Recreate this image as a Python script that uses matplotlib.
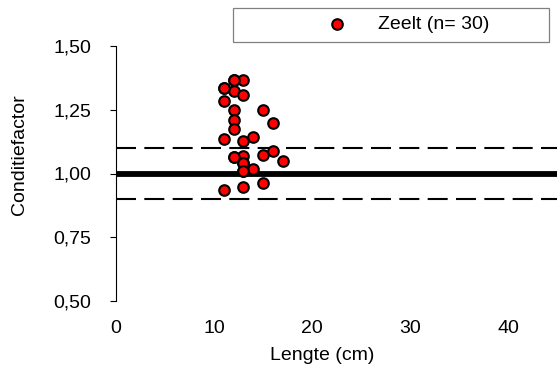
import matplotlib
matplotlib.use("Agg")
import matplotlib.pyplot as plt
from matplotlib.patches import Rectangle

plt.rcParams["font.family"] = ["Liberation Sans", "DejaVu Sans"]

# Lengte (cm) en conditiefactor per gevangen zeelt
lengte = [11, 11, 11, 11,
          12, 12, 12, 12, 12, 12,
          13, 13, 13, 13, 13, 13, 13,
          14, 14,
          15, 15, 15,
          16, 16,
          17,
          13, 13, 12, 11, 12]
conditie = [1.334, 1.283, 1.137, 0.937,
            1.367, 1.325, 1.249, 1.210, 1.173, 1.063,
            1.367, 1.308, 1.127, 1.069, 1.040, 1.008, 0.948,
            1.142, 1.019,
            1.249, 1.073, 0.961,
            1.199, 1.089,
            1.048,
            1.040, 1.008, 1.063, 1.334, 1.367]

referentie = 1.0
grenzen = [0.9, 1.1]
y_ticks = [0.50, 0.75, 1.00, 1.25, 1.50]
x_ticks = [0, 10, 20, 30, 40]
reeks_label = "Zeelt (n= 30)"

fs = 14
W, H = 557, 374
fig = plt.figure(figsize=(W / 100, H / 100), dpi=100)
ax = fig.add_axes([116 / W, 73 / H, 441 / W, 255 / H])

sc = ax.scatter(lengte, conditie, s=58, facecolor="#ff0000", edgecolor="black",
                linewidth=1.5, zorder=3, label=reeks_label)
ax.axhline(referentie, color="black", lw=4.2, zorder=2)
for g in grenzen:
    ax.axhline(g, color="black", lw=1.5, ls=(0, (9.6, 4.0)), zorder=2)

ax.set_xlim(0, 45)
ax.set_ylim(0.5, 1.5)
ax.set_yticks(y_ticks)
ax.set_yticklabels([f"{v:.2f}".replace(".", ",") for v in y_ticks])
ax.set_xticks(x_ticks)
ax.set_xticklabels([str(v) for v in x_ticks])

for side in ("top", "right", "bottom"):
    ax.spines[side].set_visible(False)
ax.spines["left"].set_linewidth(0.8)
ax.tick_params(axis="y", direction="out", length=4, width=0.8, pad=14, labelsize=fs)
ax.tick_params(axis="x", length=0, pad=13.5, labelsize=fs)

fig.text(322 / W, 1 - 356 / H, "Lengte (cm)", ha="center", va="center", fontsize=fs)
fig.text(20 / W, 1 - 155 / H, "Conditiefactor", ha="center", va="center",
         rotation=90, fontsize=fs)

# legend frame and entry
fig.patches.append(Rectangle((233 / W, 1 - 42 / H), 316 / W, 34 / H,
                             transform=fig.transFigure, fill=False,
                             edgecolor="#808080", lw=0.9))
fig.legend(handles=[sc], labels=[reeks_label], loc="center left",
           bbox_to_anchor=(327.3 / W, 1 - 24.5 / H), frameon=False,
           borderpad=0, borderaxespad=0, handlelength=1.0,
           handletextpad=1.6, scatterpoints=1, fontsize=fs)

fig.savefig("out.png", dpi=100)
